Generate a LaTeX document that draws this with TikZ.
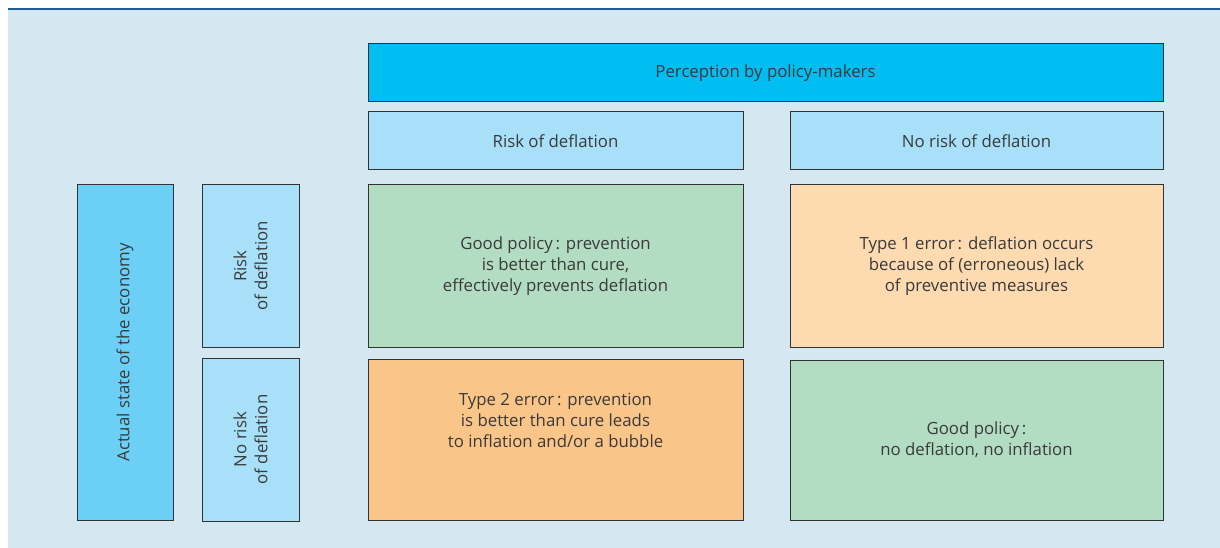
\documentclass[tikz,border=0pt]{standalone}
\usepackage{fontspec}
\setmainfont{Open Sans}
\usepackage{xcolor}
\usepackage{tikz}

\definecolor{bgblue}{RGB}{213,231,241}
\definecolor{topline}{RGB}{31,92,153}
\definecolor{percblue}{RGB}{0,189,242}
\definecolor{headblue}{RGB}{168,224,249}
\definecolor{stateblue}{RGB}{108,207,246}
\definecolor{goodgreen}{RGB}{178,221,194}
\definecolor{errpeach}{RGB}{254,218,176}
\definecolor{errorange}{RGB}{250,197,136}
\definecolor{inkgray}{RGB}{58,58,58}

\begin{document}
\begin{tikzpicture}[x=1pt,y=1pt,yscale=-1,xscale=1,
    cell/.style={draw=black!80,line width=1pt,inner sep=0pt,align=center,text=inkgray,
        font=\fontsize{16.8}{21}\selectfont}]
    \useasboundingbox (0,0) rectangle (1220,548);
    
    % Background panel
    \fill [bgblue] (8,10) rectangle (1220,548);
    \draw [topline,line width=2] (8,9.5) -- (1220,9.5);
    
    % Column heads
    \node [cell,fill=percblue,minimum width=795,minimum height=58] (perception) at (765.5,73) {Perception by policy-makers};
    \node [cell,fill=headblue,minimum width=375,minimum height=58] (riskhead) at (555.5,141) {Risk of deflation};
    \node [cell,fill=headblue,minimum width=373,minimum height=58] (noriskhead) at (976.5,141) {No risk of deflation};
    
    % Row heads
    \node [cell,fill=stateblue,rotate=90,minimum width=335,minimum height=96] (actual) at (125,352.5) {Actual state of the economy};
    \node [cell,fill=headblue,rotate=90,minimum width=162,minimum height=97] (riskside) at (250.5,266) {Risk\\of deflation};
    \node [cell,fill=headblue,rotate=90,minimum width=163,minimum height=97] (noriskside) at (250.5,439.5) {No risk\\of deflation};
    
    % Outcomes
    \node [cell,fill=goodgreen,minimum width=375,minimum height=162] (goodprev) at (555.5,266) {Good policy\,: prevention\\is better than cure,\\effectively prevents deflation};
    \node [cell,fill=errpeach,minimum width=373,minimum height=162] (typeone) at (976.5,266) {Type 1 error\,: deflation occurs\\because of (erroneous) lack\\of preventive measures};
    \node [cell,fill=errorange,minimum width=375,minimum height=161] (typetwo) at (555.5,439.5) {Type 2 error\,: prevention\\is better than cure leads\\to inflation and/or a bubble\\[18pt]};
    \node [cell,fill=goodgreen,minimum width=373,minimum height=160] (goodnone) at (976.5,440) {Good policy\,:\\no deflation, no inflation};
    
\end{tikzpicture}
\end{document}
